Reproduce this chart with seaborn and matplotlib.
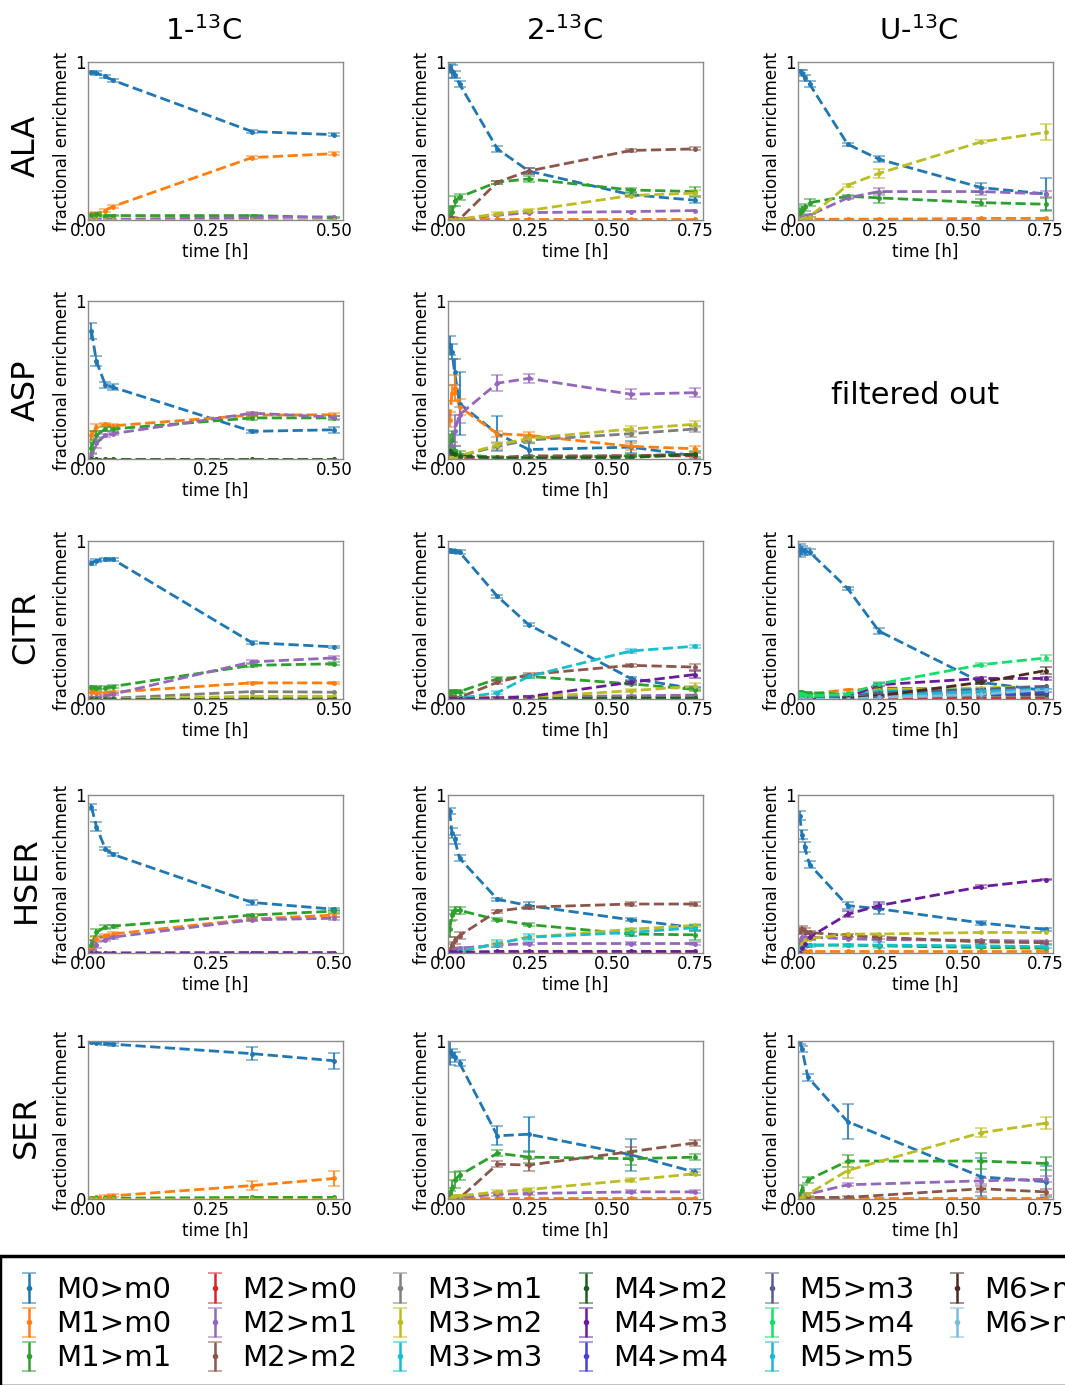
import numpy as np
import pandas as pd
import matplotlib
matplotlib.use("Agg")
import matplotlib.pyplot as plt
import seaborn as sns

# ---------------- data ----------------
SERIES = ['M0>m0', 'M1>m0', 'M1>m1', 'M2>m0', 'M2>m1', 'M2>m2',
          'M3>m1', 'M3>m2', 'M3>m3', 'M4>m2', 'M4>m3', 'M4>m4',
          'M5>m3', 'M5>m4', 'M5>m5', 'M6>m5', 'M6>m6']
COLORS = {'M0>m0': '#1f77b4', 'M1>m0': '#ff7f0e', 'M1>m1': '#2ca02c',
          'M2>m0': '#d62728', 'M2>m1': '#9467bd', 'M2>m2': '#8c564b',
          'M3>m1': '#7f7f7f', 'M3>m2': '#bcbd22', 'M3>m3': '#17becf',
          'M4>m2': '#1b5e20', 'M4>m3': '#6a1b9a', 'M4>m4': '#4a3ddb',
          'M5>m3': '#5c5c8e', 'M5>m4': '#12e06a', 'M5>m5': '#1ab8d4',
          'M6>m5': '#4e2a1e', 'M6>m6': '#7bbde0'}

ROWS = ['ALA', 'ASP', 'CITR', 'HSER', 'SER']
COLS = ['1-$^{13}$C', '2-$^{13}$C', 'U-$^{13}$C']

T1 = [0.007, 0.017, 0.035, 0.05, 0.333, 0.5]
T2 = [0.005, 0.012, 0.02, 0.035, 0.15, 0.245, 0.555, 0.75]
T3 = [0.005, 0.012, 0.02, 0.035, 0.15, 0.245, 0.555, 0.75]
T_SER_U = [0.005, 0.012, 0.03, 0.15, 0.555, 0.75]

# ALA
ALA_1C = {'M0>m0': [0.935, 0.93, 0.91, 0.885, 0.56, 0.54],
          'M1>m0': [0.035, 0.04, 0.06, 0.085, 0.395, 0.42],
          'M1>m1': [0.03, 0.035, 0.025, 0.028, 0.028, 0.015],
          'M2>m1': [0.005, 0.005, 0.005, 0.005, 0.015, 0.02],
          'M3>m2': [0.0, 0.0, 0.0, 0.0, 0.0, 0.0]}
ALA_1C_ERR = {'M0>m0': [0.01, 0.01, 0.01, 0.01, 0.01, 0.008],
              'M1>m0': [0.01, 0.01, 0.01, 0.01, 0.01, 0.01],
              'M1>m1': [0.01, 0.01, 0.005, 0.005, 0.005, 0.005]}
ALA_2C = {'M0>m0': [0.96, 0.94, 0.92, 0.86, 0.45, 0.31, 0.16, 0.125],
          'M1>m0': [0.005, 0.005, 0.005, 0.005, 0.005, 0.005, 0.005, 0.005],
          'M1>m1': [0.03, 0.05, 0.12, 0.145, 0.24, 0.26, 0.19, 0.18],
          'M2>m1': [0.0, 0.0, 0.0, 0.005, 0.03, 0.047, 0.053, 0.06],
          'M2>m2': [0.01, 0.01, 0.0, 0.005, 0.24, 0.31, 0.44, 0.45],
          'M3>m2': [0.0, 0.0, 0.0, 0.005, 0.04, 0.06, 0.155, 0.17]}
ALA_2C_ERR = {'M0>m0': [0.03, 0.04, 0.02, 0.02, 0.02, 0.02, 0.01, 0.02],
              'M1>m1': [0.05, 0.04, 0.03, 0.02, 0.01, 0.02, 0.01, 0.03],
              'M2>m2': [0.01, 0.01, 0.01, 0.01, 0.01, 0.02, 0.01, 0.01],
              'M3>m2': [0.0, 0.0, 0.0, 0.0, 0.01, 0.01, 0.01, 0.02]}
ALA_U = {'M0>m0': [0.94, 0.93, 0.90, 0.86, 0.48, 0.385, 0.205, 0.165],
         'M1>m0': [0.005, 0.005, 0.005, 0.005, 0.005, 0.005, 0.01, 0.01],
         'M1>m1': [0.045, 0.06, 0.08, 0.11, 0.15, 0.14, 0.11, 0.10],
         'M2>m1': [0.0, 0.01, 0.02, 0.03, 0.14, 0.18, 0.18, 0.165],
         'M3>m2': [0.0, 0.005, 0.01, 0.02, 0.22, 0.295, 0.495, 0.555]}
ALA_U_ERR = {'M0>m0': [0.01, 0.02, 0.02, 0.02, 0.01, 0.02, 0.03, 0.1],
             'M1>m1': [0.03, 0.03, 0.02, 0.02, 0.01, 0.03, 0.02, 0.04],
             'M2>m1': [0.01, 0.01, 0.01, 0.01, 0.01, 0.02, 0.02, 0.02],
             'M3>m2': [0.0, 0.0, 0.0, 0.0, 0.01, 0.03, 0.01, 0.05]}

# ASP
ASP_1C = {'M0>m0': [0.81, 0.62, 0.47, 0.455, 0.175, 0.185],
          'M1>m0': [0.15, 0.20, 0.22, 0.21, 0.278, 0.28],
          'M1>m1': [0.07, 0.15, 0.19, 0.19, 0.26, 0.26],
          'M2>m1': [0.02, 0.10, 0.15, 0.16, 0.29, 0.265],
          'M3>m2': [0.0, 0.0, 0.0, 0.0, 0.0, 0.0],
          'M4>m2': [0.0, 0.0, 0.0, 0.0, 0.0, 0.0]}
ASP_1C_ERR = {'M0>m0': [0.05, 0.03, 0.02, 0.02, 0.01, 0.02],
              'M1>m0': [0.03, 0.02, 0.01, 0.01, 0.01, 0.01],
              'M1>m1': [0.04, 0.03, 0.01, 0.01, 0.01, 0.01],
              'M2>m1': [0.02, 0.03, 0.01, 0.01, 0.01, 0.01]}
ASP_2C = {'M0>m0': [0.72, 0.68, 0.55, 0.35, 0.16, 0.06, 0.075, 0.02],
          'M1>m0': [0.25, 0.42, 0.45, 0.33, 0.16, 0.15, 0.08, 0.065],
          'M1>m1': [0.06, 0.12, 0.05, 0.03, 0.01, 0.01, 0.02, 0.03],
          'M2>m0': [0.01, 0.01, 0.01, 0.01, 0.01, 0.01, 0.02, 0.02],
          'M2>m1': [0.02, 0.08, 0.18, 0.28, 0.48, 0.51, 0.41, 0.42],
          'M2>m2': [0.01, 0.01, 0.01, 0.01, 0.01, 0.02, 0.02, 0.03],
          'M3>m1': [0.005, 0.01, 0.01, 0.02, 0.08, 0.12, 0.16, 0.19],
          'M3>m2': [0.005, 0.01, 0.01, 0.02, 0.09, 0.13, 0.19, 0.22],
          'M4>m2': [0.05, 0.04, 0.03, 0.02, 0.005, 0.005, 0.01, 0.03]}
ASP_2C_ERR = {'M0>m0': [0.06, 0.05, 0.08, 0.2, 0.11, 0.04, 0.04, 0.02],
              'M1>m0': [0.05, 0.05, 0.08, 0.05, 0.02, 0.02, 0.02, 0.02],
              'M1>m1': [0.1, 0.06, 0.03, 0.02, 0.01, 0.01, 0.01, 0.02],
              'M2>m1': [0.02, 0.03, 0.1, 0.05, 0.05, 0.03, 0.03, 0.03],
              'M3>m1': [0.005, 0.01, 0.01, 0.01, 0.02, 0.02, 0.02, 0.02],
              'M3>m2': [0.005, 0.01, 0.01, 0.01, 0.02, 0.02, 0.02, 0.02]}

# CITR
CITR_1C = {'M0>m0': [0.86, 0.875, 0.885, 0.885, 0.357, 0.33],
           'M1>m0': [0.045, 0.04, 0.04, 0.043, 0.102, 0.102],
           'M1>m1': [0.074, 0.07, 0.072, 0.079, 0.213, 0.223],
           'M2>m1': [0.01, 0.01, 0.02, 0.03, 0.235, 0.26],
           'M2>m2': [0.0, 0.0, 0.0, 0.0, 0.005, 0.005],
           'M3>m1': [0.005, 0.005, 0.005, 0.005, 0.047, 0.043],
           'M3>m2': [0.0, 0.0, 0.0, 0.0, 0.017, 0.017],
           'M4>m2': [0.0, 0.0, 0.0, 0.0, 0.0, 0.0]}
CITR_1C_ERR = {'M0>m0': [0.015, 0.01, 0.01, 0.01, 0.01, 0.005],
               'M1>m1': [0.01, 0.01, 0.01, 0.01, 0.01, 0.01],
               'M2>m1': [0.005, 0.005, 0.005, 0.005, 0.01, 0.01],
               'M1>m0': [0.01, 0.01, 0.005, 0.005, 0.005, 0.005]}
CITR_2C = {'M0>m0': [0.94, 0.935, 0.935, 0.93, 0.65, 0.47, 0.13, 0.065],
           'M1>m0': [0.02, 0.015, 0.01, 0.01, 0.01, 0.01, 0.01, 0.01],
           'M1>m1': [0.047, 0.047, 0.047, 0.047, 0.128, 0.143, 0.096, 0.06],
           'M2>m1': [0.0, 0.0, 0.0, 0.0, 0.01, 0.015, 0.02, 0.025],
           'M2>m2': [0.01, 0.01, 0.01, 0.01, 0.106, 0.155, 0.213, 0.202],
           'M3>m1': [0.0, 0.0, 0.0, 0.0, 0.005, 0.005, 0.01, 0.01],
           'M3>m2': [0.0, 0.0, 0.0, 0.0, 0.005, 0.01, 0.053, 0.08],
           'M3>m3': [0.0, 0.0, 0.0, 0.005, 0.04, 0.143, 0.304, 0.334],
           'M4>m2': [0.0, 0.0, 0.0, 0.0, 0.0, 0.0, 0.005, 0.005],
           'M4>m3': [0.0, 0.0, 0.0, 0.0, 0.005, 0.015, 0.106, 0.155]}
CITR_2C_ERR = {'M0>m0': [0.01, 0.01, 0.01, 0.01, 0.01, 0.01, 0.01, 0.01],
               'M1>m1': [0.01, 0.01, 0.01, 0.01, 0.01, 0.01, 0.01, 0.01],
               'M2>m2': [0.005, 0.005, 0.005, 0.005, 0.01, 0.01, 0.01, 0.02],
               'M3>m3': [0.0, 0.0, 0.0, 0.005, 0.01, 0.01, 0.01, 0.01],
               'M3>m2': [0.0, 0.0, 0.0, 0.0, 0.005, 0.005, 0.01, 0.02],
               'M4>m3': [0.0, 0.0, 0.0, 0.0, 0.005, 0.005, 0.01, 0.02]}
CITR_U = {'M0>m0': [0.94, 0.94, 0.935, 0.93, 0.70, 0.43, 0.105, 0.053],
          'M1>m0': [0.02, 0.02, 0.03, 0.03, 0.06, 0.06, 0.04, 0.03],
          'M1>m1': [0.045, 0.045, 0.04, 0.04, 0.03, 0.05, 0.04, 0.035],
          'M2>m0': [0.0, 0.0, 0.0, 0.0, 0.0, 0.0, 0.005, 0.005],
          'M2>m2': [0.01, 0.01, 0.01, 0.01, 0.03, 0.07, 0.06, 0.05],
          'M3>m1': [0.0, 0.0, 0.0, 0.0, 0.01, 0.02, 0.02, 0.02],
          'M3>m2': [0.0, 0.0, 0.0, 0.0, 0.02, 0.06, 0.07, 0.08],
          'M3>m3': [0.0, 0.0, 0.0, 0.0, 0.02, 0.05, 0.06, 0.07],
          'M4>m2': [0.0, 0.0, 0.0, 0.0, 0.01, 0.03, 0.03, 0.03],
          'M4>m3': [0.0, 0.0, 0.0, 0.0, 0.01, 0.09, 0.13, 0.13],
          'M4>m4': [0.0, 0.0, 0.0, 0.0, 0.005, 0.02, 0.03, 0.04],
          'M5>m3': [0.0, 0.0, 0.0, 0.0, 0.01, 0.04, 0.06, 0.08],
          'M5>m4': [0.03, 0.03, 0.025, 0.02, 0.03, 0.096, 0.217, 0.26],
          'M5>m5': [0.0, 0.0, 0.0, 0.0, 0.01, 0.02, 0.05, 0.06],
          'M6>m5': [0.0, 0.0, 0.0, 0.0, 0.005, 0.02, 0.106, 0.18],
          'M6>m6': [0.0, 0.0, 0.0, 0.0, 0.0, 0.01, 0.03, 0.06]}
CITR_U_ERR = {'M0>m0': [0.04, 0.03, 0.02, 0.02, 0.01, 0.02, 0.01, 0.01],
              'M5>m4': [0.01, 0.01, 0.01, 0.01, 0.01, 0.01, 0.01, 0.02],
              'M6>m5': [0.0, 0.0, 0.0, 0.0, 0.005, 0.005, 0.01, 0.02],
              'M4>m3': [0.0, 0.0, 0.0, 0.0, 0.005, 0.01, 0.01, 0.01]}

# HSER
HSER_1C = {'M0>m0': [0.925, 0.80, 0.66, 0.625, 0.32, 0.277],
           'M1>m0': [0.03, 0.09, 0.11, 0.12, 0.215, 0.24],
           'M1>m1': [0.05, 0.13, 0.165, 0.17, 0.24, 0.265],
           'M2>m1': [0.01, 0.05, 0.085, 0.10, 0.21, 0.22],
           'M3>m2': [0.0, 0.0, 0.0, 0.0, 0.003, 0.003],
           'M4>m3': [0.0, 0.0, 0.0, 0.0, 0.002, 0.002]}
HSER_1C_ERR = {'M0>m0': [0.02, 0.03, 0.01, 0.01, 0.015, 0.01],
               'M1>m1': [0.03, 0.02, 0.01, 0.01, 0.01, 0.01],
               'M1>m0': [0.01, 0.01, 0.01, 0.01, 0.01, 0.01],
               'M2>m1': [0.01, 0.02, 0.01, 0.01, 0.01, 0.01]}
HSER_2C = {'M0>m0': [0.90, 0.76, 0.72, 0.60, 0.34, 0.30, 0.21, 0.16],
           'M1>m0': [0.005, 0.005, 0.005, 0.005, 0.005, 0.005, 0.005, 0.005],
           'M1>m1': [0.15, 0.24, 0.27, 0.27, 0.21, 0.18, 0.12, 0.115],
           'M2>m1': [0.01, 0.015, 0.02, 0.03, 0.05, 0.06, 0.06, 0.06],
           'M2>m2': [0.01, 0.05, 0.08, 0.11, 0.265, 0.29, 0.31, 0.31],
           'M3>m2': [0.0, 0.0, 0.005, 0.01, 0.06, 0.10, 0.15, 0.175],
           'M3>m3': [0.0, 0.0, 0.005, 0.01, 0.06, 0.10, 0.13, 0.16],
           'M4>m3': [0.005, 0.005, 0.005, 0.005, 0.01, 0.01, 0.01, 0.01]}
HSER_2C_ERR = {'M0>m0': [0.02, 0.03, 0.03, 0.02, 0.01, 0.02, 0.01, 0.02],
               'M1>m1': [0.05, 0.03, 0.02, 0.02, 0.01, 0.01, 0.01, 0.03],
               'M2>m2': [0.02, 0.02, 0.02, 0.02, 0.01, 0.01, 0.01, 0.01],
               'M3>m2': [0.0, 0.0, 0.005, 0.005, 0.01, 0.01, 0.01, 0.01],
               'M3>m3': [0.0, 0.0, 0.005, 0.005, 0.02, 0.02, 0.02, 0.02],
               'M2>m1': [0.005, 0.005, 0.005, 0.005, 0.01, 0.01, 0.01, 0.01]}
HSER_U = {'M0>m0': [0.87, 0.75, 0.67, 0.56, 0.30, 0.28, 0.19, 0.15],
          'M1>m0': [0.01, 0.01, 0.01, 0.01, 0.01, 0.01, 0.01, 0.01],
          'M1>m1': [0.06, 0.05, 0.05, 0.05, 0.05, 0.045, 0.035, 0.03],
          'M2>m1': [0.08, 0.10, 0.10, 0.10, 0.09, 0.085, 0.08, 0.075],
          'M2>m2': [0.14, 0.15, 0.14, 0.13, 0.11, 0.10, 0.07, 0.065],
          'M3>m2': [0.04, 0.06, 0.08, 0.09, 0.12, 0.12, 0.13, 0.13],
          'M3>m3': [0.03, 0.04, 0.05, 0.05, 0.05, 0.05, 0.045, 0.04],
          'M4>m3': [0.0, 0.03, 0.06, 0.10, 0.245, 0.30, 0.42, 0.465]}
HSER_U_ERR = {'M0>m0': [0.03, 0.03, 0.03, 0.02, 0.02, 0.03, 0.01, 0.01],
              'M4>m3': [0.01, 0.02, 0.02, 0.02, 0.02, 0.02, 0.01, 0.005],
              'M2>m2': [0.02, 0.02, 0.02, 0.01, 0.01, 0.01, 0.01, 0.01],
              'M3>m3': [0.01, 0.01, 0.01, 0.01, 0.01, 0.02, 0.01, 0.01]}

# SER
SER_1C = {'M0>m0': [0.995, 0.99, 0.985, 0.98, 0.92, 0.875],
          'M1>m0': [0.005, 0.01, 0.015, 0.02, 0.085, 0.13],
          'M1>m1': [0.005, 0.005, 0.005, 0.005, 0.01, 0.01],
          'M3>m2': [0.0, 0.0, 0.0, 0.0, 0.0, 0.0]}
SER_1C_ERR = {'M0>m0': [0.005, 0.01, 0.01, 0.01, 0.04, 0.05],
              'M1>m0': [0.005, 0.005, 0.01, 0.01, 0.03, 0.05]}
SER_2C = {'M0>m0': [0.93, 0.92, 0.90, 0.86, 0.40, 0.41, 0.28, 0.17],
          'M1>m0': [0.005, 0.005, 0.005, 0.005, 0.005, 0.005, 0.005, 0.005],
          'M1>m1': [0.03, 0.07, 0.12, 0.15, 0.29, 0.265, 0.255, 0.265],
          'M2>m1': [0.0, 0.0, 0.01, 0.01, 0.03, 0.035, 0.045, 0.045],
          'M2>m2': [0.01, 0.01, 0.005, 0.005, 0.22, 0.215, 0.30, 0.355],
          'M3>m2': [0.0, 0.01, 0.02, 0.02, 0.045, 0.06, 0.12, 0.16]}
SER_2C_ERR = {'M0>m0': [0.08, 0.03, 0.03, 0.02, 0.06, 0.11, 0.10, 0.02],
              'M1>m1': [0.02, 0.05, 0.05, 0.03, 0.02, 0.04, 0.04, 0.02],
              'M2>m2': [0.01, 0.01, 0.01, 0.01, 0.02, 0.04, 0.03, 0.02],
              'M3>m2': [0.005, 0.005, 0.005, 0.005, 0.01, 0.01, 0.01, 0.01],
              'M2>m1': [0.0, 0.0, 0.005, 0.005, 0.01, 0.01, 0.01, 0.01]}
SER_U = {'M0>m0': [1.0, 0.95, 0.77, 0.49, 0.14, 0.11],
         'M1>m0': [0.005, 0.005, 0.005, 0.005, 0.005, 0.005],
         'M1>m1': [0.02, 0.06, 0.12, 0.24, 0.24, 0.225],
         'M2>m1': [0.0, 0.01, 0.03, 0.09, 0.115, 0.125],
         'M2>m2': [0.01, 0.01, 0.01, 0.01, 0.065, 0.045],
         'M3>m2': [0.0, 0.01, 0.03, 0.18, 0.42, 0.48]}
SER_U_ERR = {'M0>m0': [0.02, 0.02, 0.02, 0.11, 0.12, 0.10],
             'M1>m1': [0.02, 0.03, 0.02, 0.04, 0.05, 0.04],
             'M2>m1': [0.0, 0.005, 0.01, 0.01, 0.02, 0.02],
             'M2>m2': [0.005, 0.005, 0.005, 0.01, 0.02, 0.02],
             'M3>m2': [0.0, 0.0, 0.01, 0.05, 0.03, 0.04]}

PANELS = {
    (0, 0): (T1, ALA_1C, ALA_1C_ERR), (0, 1): (T2, ALA_2C, ALA_2C_ERR), (0, 2): (T3, ALA_U, ALA_U_ERR),
    (1, 0): (T1, ASP_1C, ASP_1C_ERR), (1, 1): (T2, ASP_2C, ASP_2C_ERR),
    (2, 0): (T1, CITR_1C, CITR_1C_ERR), (2, 1): (T2, CITR_2C, CITR_2C_ERR), (2, 2): (T3, CITR_U, CITR_U_ERR),
    (3, 0): (T1, HSER_1C, HSER_1C_ERR), (3, 1): (T2, HSER_2C, HSER_2C_ERR), (3, 2): (T3, HSER_U, HSER_U_ERR),
    (4, 0): (T1, SER_1C, SER_1C_ERR), (4, 1): (T2, SER_2C, SER_2C_ERR), (4, 2): (T_SER_U, SER_U, SER_U_ERR),
}

# ---------------- style ----------------
sns.set_theme(style="white")
plt.rcParams['font.family'] = ['DejaVu Sans']
plt.rcParams['mathtext.fontset'] = 'dejavusans'
plt.rcParams['text.color'] = 'black'
plt.rcParams['axes.labelcolor'] = 'black'
plt.rcParams['xtick.color'] = 'black'
plt.rcParams['ytick.color'] = 'black'

W, H = 1065, 1385
fig = plt.figure(figsize=(W / 100, H / 100), dpi=100)

COL_LEFT = [88, 448, 798]
ROW_TOP = [62, 301, 541, 795, 1041]
AX_W, AX_H = 255, 158
XMAX = [0.518, 0.774, 0.772]
XTICKS = [[0, 0.25, 0.5], [0, 0.25, 0.5, 0.75], [0, 0.25, 0.5, 0.75]]
SPINE = '#8c8c8c'


def draw_panel(ax, times, vals, errs, ci):
    rows = []
    for name, v in vals.items():
        for t, y in zip(times, v):
            rows.append((name, t, y))
    df = pd.DataFrame(rows, columns=['series', 'time', 'value'])
    order = [n for n in SERIES if n in vals]
    sns.lineplot(data=df, x='time', y='value', hue='series', hue_order=order,
                 palette=COLORS, linestyle='--', linewidth=2.0, errorbar=None,
                 legend=False, ax=ax)
    for name in order:
        cont = ax.errorbar(times, vals[name], yerr=errs.get(name), fmt='.',
                           color=COLORS[name], markersize=5, capsize=4.5,
                           elinewidth=1.5, capthick=1.3)
        for cl in cont[1]:
            cl.set_alpha(0.55)
        for bl in cont[2]:
            bl.set_alpha(0.85)
    ax.set_xlim(0, XMAX[ci])
    ax.set_ylim(0, 1)
    ax.set_xticks(XTICKS[ci])
    ax.set_yticks([0, 1])
    ax.set_yticklabels(['0', '1'])
    ax.tick_params(length=0, pad=1.5, labelsize=12, colors='black')
    ax.set_xlabel('time [h]', fontsize=12, labelpad=2, color='black')
    ax.set_ylabel('fractional enrichment', fontsize=12, labelpad=3, color='black')
    for s in ax.spines.values():
        s.set_visible(True)
        s.set_color(SPINE)
        s.set_linewidth(1.0)


for (ri, ci), (times, vals, errs) in PANELS.items():
    left = COL_LEFT[ci]
    top = ROW_TOP[ri]
    ax = fig.add_axes([left / W, 1 - (top + AX_H) / H, AX_W / W, AX_H / H])
    draw_panel(ax, times, vals, errs, ci)

# column titles
for x, txt in zip([203, 564, 919], COLS):
    fig.text(x / W, 1 - 31 / H, txt, ha='center', va='center', fontsize=21, color='black')
# row labels
for y, txt in zip([146, 390, 627, 880, 1127], ROWS):
    fig.text(26 / W, 1 - y / H, txt, ha='center', va='center', fontsize=23,
             rotation=90, color='black')

fig.text(915 / W, 1 - 395 / H, 'filtered out', ha='center', va='center',
         fontsize=22, color='black')

# legend from errorbar handles on a hidden axes
ax_h = fig.add_axes([0.0, 0.0, 0.01, 0.01])
handles = []
for name in SERIES:
    c = ax_h.errorbar([0], [0], yerr=[0.1], fmt='.', color=COLORS[name],
                      markersize=6, capsize=5, elinewidth=1.8, capthick=1.3, label=name)
    for cl in c[1]:
        cl.set_alpha(0.55)
    handles.append(c)
ax_h.set_visible(False)

leg = fig.legend(handles=handles, labels=SERIES, loc='upper left',
                 bbox_to_anchor=(0.0, 1 - 1256 / H), ncol=6, fontsize=21,
                 frameon=True, fancybox=False, edgecolor='black', framealpha=1,
                 borderaxespad=0, handlelength=1.1, handletextpad=0.38,
                 columnspacing=0.93, labelspacing=0.21, borderpad=0.45,
                 title=' ', title_fontsize=1)
for t in leg.get_texts():
    t.set_color('black')
leg.get_frame().set_linewidth(2.5)

fig.savefig('out.png', dpi=100)
